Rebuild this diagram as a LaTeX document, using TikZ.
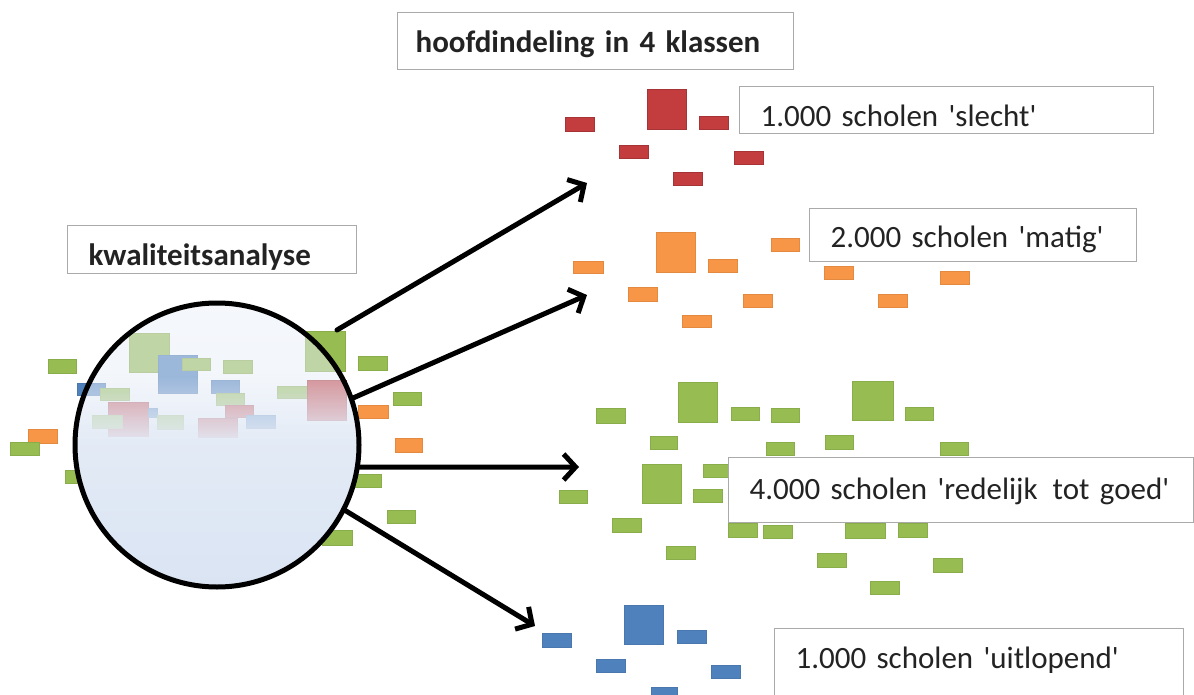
\documentclass[tikz,border=0pt]{standalone}
\usepackage{fontspec}
\setmainfont{Carlito}
\usetikzlibrary{arrows.meta,fadings}

\definecolor{schoolred}{RGB}{195,60,62}
\definecolor{schoolorange}{RGB}{247,150,70}
\definecolor{schoolgreen}{RGB}{150,188,82}
\definecolor{schoolblue}{RGB}{79,129,189}
\definecolor{boxgray}{RGB}{170,170,170}
\definecolor{inktext}{RGB}{35,35,35}
\definecolor{lenstop}{RGB}{236,241,249}
\definecolor{lensmid}{RGB}{186,202,231}
\definecolor{lensbot}{RGB}{218,228,243}

% lens: see-through at the top, opaque from just above the middle down
\begin{tikzfadingfrompicture}[name=lensfade]
  \fill[transparent!50] (-50bp,50bp) rectangle (50bp,11bp);
  \shade[top color=transparent!50, bottom color=transparent!0] (-50bp,12bp) rectangle (50bp,0bp);
  \fill[transparent!0] (-50bp,0.5bp) rectangle (50bp,-50bp);
\end{tikzfadingfrompicture}

\newcommand{\apos}{\textquotesingle}

\tikzset{
  rd/.style={fill=schoolred, draw=schoolred!85!black, line width=0.6pt},
  og/.style={fill=schoolorange, draw=schoolorange!92!black, line width=0.6pt},
  gn/.style={fill=schoolgreen, draw=schoolgreen!92!black, line width=0.6pt},
  bl/.style={fill=schoolblue, draw=schoolblue!92!black, line width=0.6pt},
  tbox/.style={draw=boxgray, fill=white, line width=1.2pt, anchor=north west,
    align=left, inner ysep=0pt, inner xsep=21pt, text=inktext,
    font=\fontsize{31}{36}\selectfont},
  lens/.style={circle, minimum size=284pt, inner sep=0pt,
    top color=lenstop, middle color=lensmid, bottom color=lensbot, path fading=lensfade},
  lensrim/.style={draw=black, line width=5pt},
  flow/.style={line width=5pt, line cap=round, -{Straight Barb[length=12pt,width=26pt]}}
}

\begin{document}
\begin{tikzpicture}[x=1pt, y=-1pt]
\useasboundingbox (0,0) rectangle (1194,695);
\fill[white] (0,0) rectangle (1194,695);

% schools around and under the lens
\fill[gn] (48,359) rectangle (76,373);
\fill[gn] (129,333) rectangle (169,372);
\fill[bl] (158,355) rectangle (197,393);
\fill[gn] (182,358) rectangle (210,370);
\fill[gn] (223,360) rectangle (252,373);
\fill[bl] (211,380) rectangle (239,393);
\fill[bl] (77,383) rectangle (105,395);
\fill[gn] (100,388) rectangle (129,400);
\fill[gn] (216,393) rectangle (244,405);
\fill[rd] (108,402) rectangle (148,436);
\fill[bl] (148,408) rectangle (157,417);
\fill[gn] (157,415) rectangle (183,429);
\fill[rd] (198,418) rectangle (237,437);
\fill[rd] (225,405) rectangle (253,417);
\fill[bl] (246,415) rectangle (275,428);
\fill[gn] (92,415) rectangle (122,428);
\fill[gn] (277,386) rectangle (307,398);
\fill[gn] (305,331) rectangle (345,371);
\fill[rd] (307,380) rectangle (346,420);
\fill[gn] (358,356) rectangle (387,370);
\fill[gn] (393,392) rectangle (421,405);
\fill[og] (358,405) rectangle (388,418);
\fill[og] (395,438) rectangle (422,452);
\fill[og] (28,429) rectangle (57,443);
\fill[gn] (10,442) rectangle (39,455);
\fill[gn] (65,470) rectangle (95,483);
\fill[gn] (352,474) rectangle (381,487);
\fill[gn] (387,510) rectangle (415,523);
\fill[gn] (322,530) rectangle (352,545);

% the lens
\node[lens] (lens) at (217,445) {};
\draw[lensrim] (lens.center) circle[radius=142pt];

% class 'slecht'
\fill[rd] (565,117) rectangle (594,131);
\fill[rd] (647,89) rectangle (686,129);
\fill[rd] (699,116) rectangle (728,129);
\fill[rd] (619,145) rectangle (648,158);
\fill[rd] (734,151) rectangle (763,164);
\fill[rd] (673,172) rectangle (702,185);

% class 'matig'
\fill[og] (573,261) rectangle (603,273);
\fill[og] (656,232) rectangle (695,272);
\fill[og] (708,259) rectangle (737,272);
\fill[og] (771,238) rectangle (799,251);
\fill[og] (628,287) rectangle (657,301);
\fill[og] (743,294) rectangle (772,307);
\fill[og] (682,315) rectangle (711,327);
\fill[og] (824,266) rectangle (853,279);
\fill[og] (878,294) rectangle (907,307);
\fill[og] (940,271) rectangle (969,284);

% class 'redelijk tot goed'
\fill[gn] (596,408) rectangle (625,423);
\fill[gn] (678,382) rectangle (717,422);
\fill[gn] (731,407) rectangle (759,420);
\fill[gn] (771,408) rectangle (799,422);
\fill[gn] (852,381) rectangle (893,420);
\fill[gn] (905,407) rectangle (933,420);
\fill[gn] (650,436) rectangle (677,449);
\fill[gn] (766,442) rectangle (794,455);
\fill[gn] (825,435) rectangle (853,449);
\fill[gn] (940,442) rectangle (968,455);
\fill[gn] (642,464) rectangle (681,503);
\fill[gn] (703,464) rectangle (730,477);
\fill[gn] (693,489) rectangle (722,502);
\fill[gn] (559,490) rectangle (587,503);
\fill[gn] (612,518) rectangle (641,532);
\fill[gn] (666,546) rectangle (695,559);
\fill[gn] (728,523) rectangle (757,537);
\fill[gn] (763,525) rectangle (792,538);
\fill[gn] (845,523) rectangle (885,538);
\fill[gn] (898,523) rectangle (927,537);
\fill[gn] (817,553) rectangle (846,567);
\fill[gn] (933,558) rectangle (962,572);
\fill[gn] (870,581) rectangle (899,594);

% class 'uitlopend'
\fill[bl] (542,633) rectangle (571,647);
\fill[bl] (624,605) rectangle (663,644);
\fill[bl] (677,630) rectangle (706,643);
\fill[bl] (596,659) rectangle (625,672);
\fill[bl] (711,665) rectangle (740,678);
\fill[bl] (651,687) rectangle (677,700);

% captions
\node[tbox, text width=360pt, inner xsep=18pt, text height=40pt, text depth=17pt]
  (title) at (397,12) {\bfseries hoofdindeling in 4 klassen};
\node[tbox, text width=247pt, text height=40pt, text depth=8pt]
  (analysis) at (67,225) {\bfseries kwaliteitsanalyse};
\node[tbox, text width=372pt, text height=40pt, text depth=7pt]
  (slecht) at (739,86) {1.000 scholen \apos slecht\apos};
\node[tbox, text width=285pt, text height=39pt, text depth=14pt]
  (matig) at (809,208) {2.000 scholen \apos matig\apos};
\node[tbox, text width=423pt, text height=42pt, text depth=23pt]
  (goed) at (728,457) {\mbox{4.000 scholen \apos redelijk\hspace{0.15em} tot goed\apos}};
\node[tbox, text width=367pt, text height=40pt, text depth=42pt]
  (uitlopend) at (774,628) {1.000 scholen \apos uitlopend\apos};

% arrows from the lens to the four classes
\coordinate (from1) at (337,330);
\coordinate (to1) at (587,183);
\coordinate (to2) at (587,295);
\coordinate (to3) at (579,467);
\coordinate (to4) at (535,626);
\draw[flow] (from1) -- (to1);
\draw[flow] (lens.19) -- (to2);
\draw[flow] (lens.-9) -- (to3);
\draw[flow] (lens.-27) -- (to4);
\end{tikzpicture}
\end{document}
